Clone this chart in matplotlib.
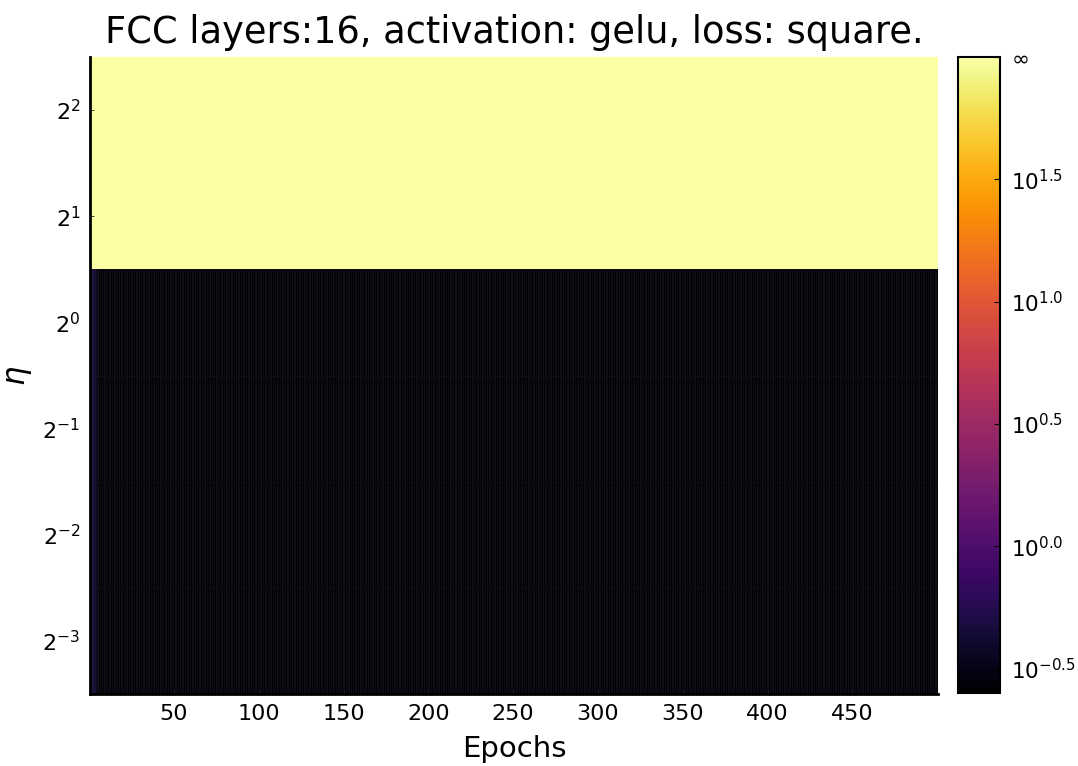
import numpy as np
import matplotlib
matplotlib.use("Agg")
import matplotlib.pyplot as plt
from matplotlib.colors import LogNorm

# --- data ---
n_epochs = 500
eta_powers = [-3, -2, -1, 0, 1, 2]
diverged = [False, False, False, False, True, True]
early_loss = [0.52, 0.48, 0.44, 0.40]        # first epochs (bluish strip)
plateau_loss = [0.27, 0.27, 0.27, 0.27, None, None]

cmin, cmax = 10 ** -0.6, 10 ** 2.0
cbar_exps = [-0.5, 0.0, 0.5, 1.0, 1.5]

grid = np.zeros((len(eta_powers), n_epochs))
for i, (p, d) in enumerate(zip(eta_powers, diverged)):
    if d:
        grid[i, :] = np.inf
    else:
        grid[i, :] = plateau_loss[i]
        grid[i, :len(early_loss)] = early_loss
shown = np.where(np.isinf(grid), cmax, grid)

x_edges = np.arange(n_epochs + 1) + 0.5
y_edges = 2.0 ** (np.array(eta_powers + [eta_powers[-1] + 1]) - 0.5)

fig = plt.figure(figsize=(10.78, 7.66), dpi=100)
ax = fig.add_axes([90 / 1078, 1 - 694 / 766, 848 / 1078, 637 / 766])
cax = fig.add_axes([958 / 1078, 1 - 693 / 766, 42 / 1078, 636 / 766])

norm = LogNorm(vmin=cmin, vmax=cmax)
mesh = ax.pcolormesh(x_edges, y_edges, shown, cmap="inferno", norm=norm)
# faint cell seams in the converged rows
n_ok = sum(not d for d in diverged)
ax.pcolormesh(x_edges, y_edges[:n_ok + 1], shown[:n_ok], cmap="inferno", norm=norm,
              edgecolors=(0.5, 0.5, 0.5, 0.10), linewidth=0.4)
ax.set_yscale("log", base=2)
ax.set_xlim(0.5, n_epochs + 0.5)
ax.set_ylim(y_edges[0], y_edges[-1])
ax.set_yticks([2.0 ** p for p in eta_powers])
ax.set_yticklabels([f"$2^{{{p}}}$" for p in eta_powers])
ax.yaxis.set_minor_locator(matplotlib.ticker.NullLocator())
ax.set_xticks(np.arange(50, 500, 50))
ax.tick_params(direction="in", labelsize=16, length=3, width=0.6, colors="#222222",
               labelcolor="black", pad=7)
for s in ["top", "right"]:
    ax.spines[s].set_visible(False)
for s in ["left", "bottom"]:
    ax.spines[s].set_linewidth(2)
ax.set_xlabel("Epochs", fontsize=21, labelpad=8)
ax.set_ylabel(r"$\eta$", fontsize=22, labelpad=6)
ax.set_title("FCC layers:16, activation: gelu, loss: square.", fontsize=26.5, pad=10)

cb = fig.colorbar(mesh, cax=cax)
cb.set_ticks([10 ** e for e in cbar_exps] + [cmax])
cb.set_ticklabels([f"$10^{{{e:.1f}}}$" for e in cbar_exps] + [r"$\infty$"])
cb.ax.minorticks_off()
cb.ax.tick_params(direction="in", labelsize=15.5, length=4, width=0.8, pad=8)
cb.outline.set_linewidth(1.5)

fig.savefig("out.png", dpi=100)
